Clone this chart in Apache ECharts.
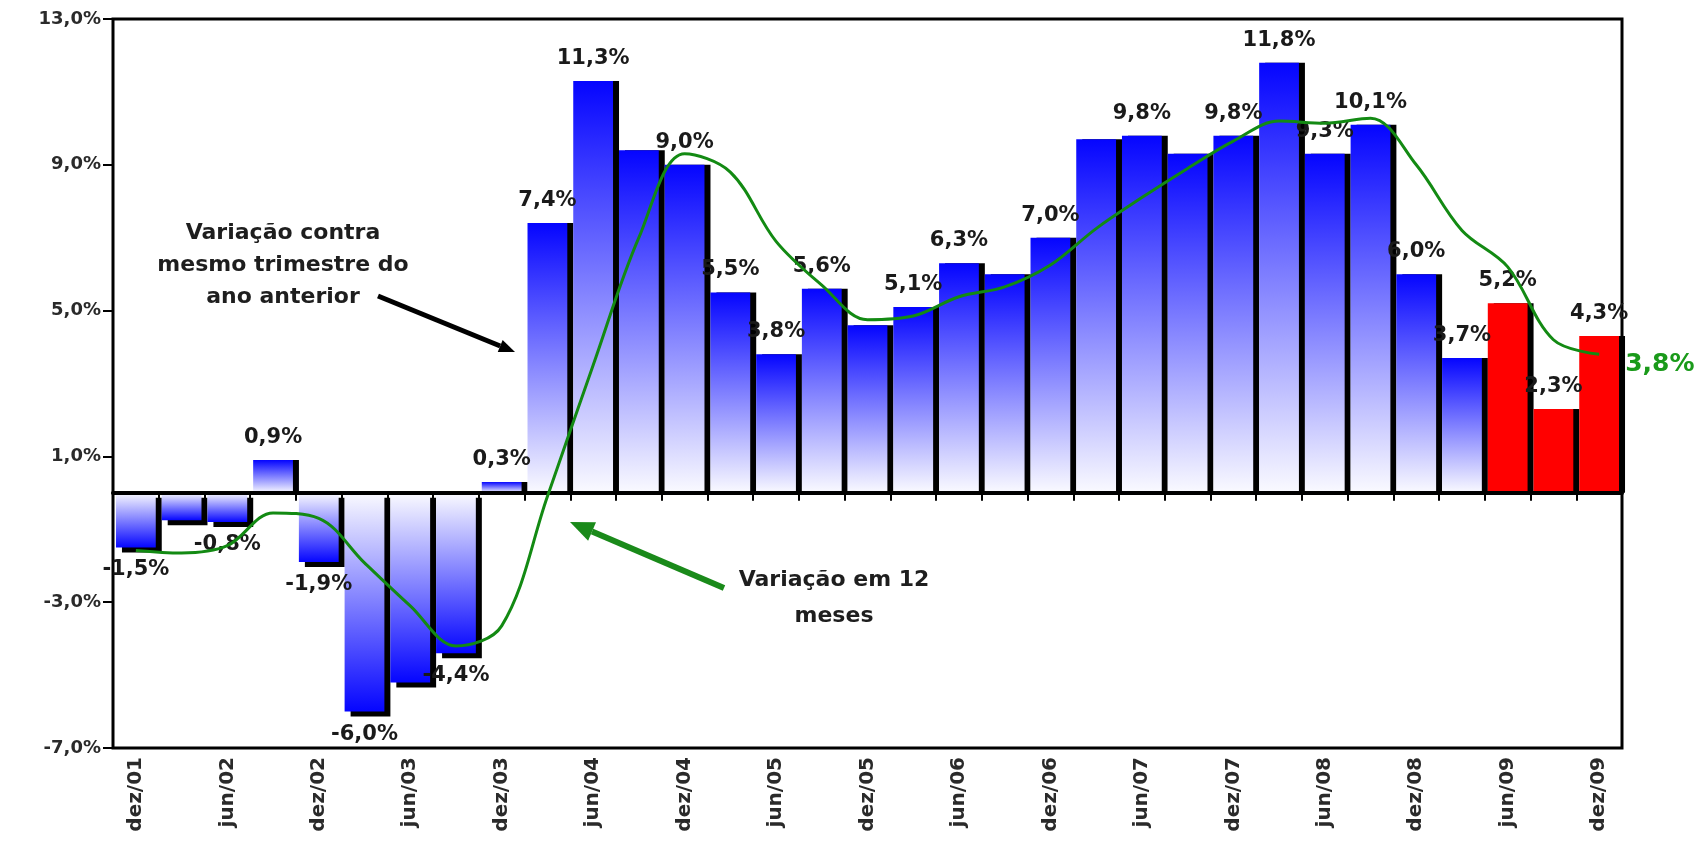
<!DOCTYPE html>
<html>
<head>
<meta charset="utf-8">
<script src="https://cdn.jsdelivr.net/npm/echarts@6/dist/echarts.min.js"></script>
<style>
html,body{margin:0;padding:0;background:#fff;}
#c{width:1695px;height:849px;}
</style>
</head>
<body>
<div id="c"></div>
<script>
// ---- data ----
const quarters = ['dez/01','mar/02','jun/02','set/02','dez/02','mar/03','jun/03','set/03','dez/03',
  'mar/04','jun/04','set/04','dez/04','mar/05','jun/05','set/05','dez/05','mar/06','jun/06','set/06',
  'dez/06','mar/07','jun/07','set/07','dez/07','mar/08','jun/08','set/08','dez/08','mar/09','jun/09',
  'set/09','dez/09'];
// variação contra mesmo trimestre do ano anterior (%)
const quarterlyChange = [-1.5,-0.75,-0.8,0.9,-1.9,-6.0,-5.2,-4.4,0.3,
  7.4,11.3,9.4,9.0,5.5,3.8,5.6,4.6,5.1,6.3,6.0,
  7.0,9.7,9.8,9.3,9.8,11.8,9.3,10.1,6.0,3.7,5.2,
  2.3,4.3];
// which bars carry a printed value label
const labeledBars = [true,false,true,true,true,true,false,true,true,
  true,true,false,true,true,true,true,false,true,true,false,
  true,false,true,false,true,true,true,true,true,true,true,
  true,true];
// variação em 12 meses (%)
const twelveMonthChange = [-1.58,-1.65,-1.45,-0.55,-0.7,-1.92,-3.1,-4.2,-3.65,
  -0.1,3.5,7.0,9.3,8.8,6.9,5.7,4.75,4.85,5.38,5.65,
  6.25,7.25,8.1,8.9,9.65,10.2,10.14,10.28,9.0,7.2,6.2,
  4.2,3.8];
const highlightedQuarters = ['jun/09','set/09','dez/09'];
const yMin = -7, yMax = 13, yStep = 4;

const fmt = v => v.toFixed(1).replace('.', ',') + '%';
const FONT = '"DejaVu Sans", "Liberation Sans", sans-serif';

const chart = echarts.init(document.getElementById('c'), null, {renderer: 'canvas'});

const blueUp = new echarts.graphic.LinearGradient(0, 0, 0, 1, [
  {offset: 0, color: '#0505ff'}, {offset: 1, color: '#fafaff'}]);
const blueDown = new echarts.graphic.LinearGradient(0, 0, 0, 1, [
  {offset: 0, color: '#fafaff'}, {offset: 1, color: '#0505ff'}]);

const barData = quarters.map((q, i) => {
  const v = quarterlyChange[i];
  const red = highlightedQuarters.indexOf(q) >= 0;
  return {
    value: v,
    itemStyle: {
      color: red ? '#ff0000' : (v >= 0 ? blueUp : blueDown),
      shadowOffsetY: v < 0 ? 5 : 0
    },
    label: {show: labeledBars[i], position: v < 0 ? 'bottom' : 'top'}
  };
});

function arrow(x1, y1, x2, y2, color, width, headLen, headW) {
  const a = Math.atan2(y2 - y1, x2 - x1);
  const bx = x2 - headLen * Math.cos(a), by = y2 - headLen * Math.sin(a);
  const px = -Math.sin(a) * headW / 2, py = Math.cos(a) * headW / 2;
  return [
    {type: 'line', z: 20, shape: {x1: x1, y1: y1, x2: bx, y2: by},
     style: {stroke: color, lineWidth: width, lineCap: 'butt'}},
    {type: 'polygon', z: 20, shape: {points: [[x2, y2], [bx + px, by + py], [bx - px, by - py]]},
     style: {fill: color}}
  ];
}

const annText = {fill: '#1e1e1e', font: 'bold 22px ' + FONT, align: 'center', verticalAlign: 'top'};

const option = {
  animation: false,
  backgroundColor: '#ffffff',
  grid: {
    left: 113, right: 73, top: 19, bottom: 101,
    show: true, borderColor: '#000', borderWidth: 3,
    containLabel: false, outerBoundsMode: 'none'
  },
  xAxis: [
    {
      type: 'category', data: quarters, position: 'bottom', z: 3,
      axisLine: {show: true, onZero: true, lineStyle: {color: '#000', width: 4}},
      axisTick: {show: true, interval: 0, length: 8, lineStyle: {color: '#000', width: 2}},
      axisLabel: {show: false},
      splitLine: {show: false}
    },
    {
      type: 'category', data: quarters, position: 'bottom',
      axisLine: {show: false, onZero: false},
      axisTick: {show: false},
      splitLine: {show: false},
      axisLabel: {show: true, rotate: 90, interval: 1, margin: 9,
        fontFamily: FONT, fontWeight: 'bold', fontSize: 20, color: '#2a2a2a'}
    }
  ],
  yAxis: {
    type: 'value', min: yMin, max: yMax, interval: yStep,
    axisLine: {show: false},
    axisTick: {show: true, length: 10, lineStyle: {color: '#000', width: 2}},
    splitLine: {show: false},
    axisLabel: {formatter: v => fmt(v), margin: 12,
      fontFamily: FONT, fontWeight: 'bold', fontSize: 18, color: '#2a2a2a'}
  },
  series: [
    {
      type: 'bar', xAxisIndex: 0, yAxisIndex: 0, data: barData,
      barCategoryGap: '13%', z: 2,
      itemStyle: {shadowColor: '#000', shadowBlur: 0, shadowOffsetX: 6},
      label: {fontFamily: FONT, fontWeight: 'bold', fontSize: 21, color: '#1a1a1a',
        distance: 12, formatter: p => fmt(p.value)},
      emphasis: {disabled: true}
    },
    {
      type: 'line', xAxisIndex: 0, yAxisIndex: 0, data: twelveMonthChange,
      smooth: 0.35, symbol: 'none', z: 5,
      lineStyle: {color: '#138a13', width: 3},
      endLabel: {show: true, formatter: p => fmt(p.value), color: '#1a9a1a',
        fontFamily: FONT, fontWeight: 'bold', fontSize: 25, distance: 26, offset: [0, 10]},
      emphasis: {disabled: true}
    }
  ],
  graphic: [
    {type: 'text', z: 20, style: Object.assign({text: 'Variação contra\nmesmo trimestre do\nano anterior',
      x: 283, y: 217, lineHeight: 32}, annText)},
    {type: 'text', z: 20, style: Object.assign({text: 'Variação em 12\nmeses',
      x: 834, y: 562, lineHeight: 36}, annText)}
  ].concat(arrow(378, 296, 515, 352, '#000000', 5, 16, 13))
   .concat(arrow(724, 588, 570, 522, '#1a8a1a', 6, 24, 20))
};

chart.setOption(option);
</script>
</body>
</html>
